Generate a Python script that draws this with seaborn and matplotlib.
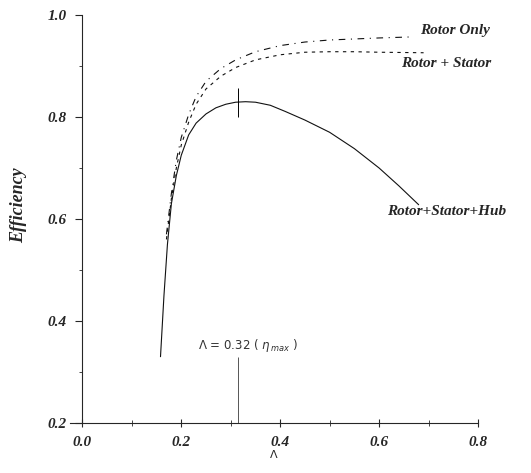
import matplotlib
matplotlib.use("Agg")
import matplotlib.pyplot as plt
import seaborn as sns
import pandas as pd

lam_hub = [0.158, 0.165, 0.172, 0.18, 0.19, 0.20, 0.215, 0.23, 0.25, 0.27, 0.29,
           0.31, 0.33, 0.35, 0.38, 0.41, 0.45, 0.50, 0.55, 0.60, 0.64, 0.68]
eff_hub = [0.33, 0.45, 0.55, 0.63, 0.685, 0.725, 0.765, 0.788, 0.806, 0.818, 0.825,
           0.829, 0.83, 0.829, 0.823, 0.811, 0.794, 0.77, 0.738, 0.70, 0.665, 0.628]

lam_rs = [0.17, 0.18, 0.19, 0.20, 0.215, 0.23, 0.25, 0.28, 0.31, 0.35, 0.40,
          0.45, 0.50, 0.55, 0.60, 0.69]
eff_rs = [0.56, 0.64, 0.70, 0.745, 0.79, 0.825, 0.855, 0.88, 0.897, 0.912, 0.922,
          0.927, 0.928, 0.928, 0.927, 0.926]

lam_ro = [0.17, 0.18, 0.19, 0.20, 0.215, 0.23, 0.25, 0.28, 0.31, 0.35, 0.40,
          0.45, 0.50, 0.55, 0.60, 0.665]
eff_ro = [0.57, 0.65, 0.715, 0.76, 0.805, 0.84, 0.87, 0.895, 0.912, 0.928, 0.94,
          0.947, 0.951, 0.953, 0.955, 0.957]

lam_peak = 0.315
peak_label = r"Λ = 0.32 ( $\eta_{\,max}$ )"

series_names = ["Rotor Only", "Rotor + Stator", "Rotor+Stator+Hub"]

sns.set_style("ticks")
plt.rcParams.update({
    "font.family": ["Liberation Serif", "DejaVu Serif"],
    "axes.linewidth": 0.8,
    "xtick.major.width": 0.8,
    "ytick.major.width": 0.8,
    "mathtext.fontset": "dejavusans",
})

fig = plt.figure(figsize=(5.31, 4.73), dpi=100)
ax = fig.add_axes([70 / 531, 50 / 473, (478 - 70) / 531, (458 - 50) / 473])

line_kw = dict(color="#111111", linewidth=0.8, estimator=None, sort=False, ax=ax)
sns.lineplot(data=pd.DataFrame({"lam": lam_ro, "eff": eff_ro}), x="lam", y="eff",
             linestyle=(0, (6, 5, 1, 5)), **line_kw)
sns.lineplot(data=pd.DataFrame({"lam": lam_rs, "eff": eff_rs}), x="lam", y="eff",
             linestyle=(0, (3, 4)), **line_kw)
sns.lineplot(data=pd.DataFrame({"lam": lam_hub, "eff": eff_hub}), x="lam", y="eff",
             linestyle="-", **line_kw)

# max-efficiency marker and guide line
ax.vlines(lam_peak, 0.80, 0.857, color="black", linewidth=0.7)
ax.vlines(lam_peak, 0.2, 0.33, color="#555555", linewidth=0.7)
ax.text(0.234, 0.352, peak_label, family="DejaVu Sans", fontsize=8.5,
        color="#333333", va="center", ha="left")

lab_kw = dict(fontsize=11, fontweight="bold", fontstyle="italic", ha="right",
              va="center", clip_on=False)
ax.text(0.824, 0.969, series_names[0], **lab_kw)
ax.text(0.826, 0.904, series_names[1], **lab_kw)
ax.text(0.857, 0.614, series_names[2], **lab_kw)

ax.set_xlim(-0.025, 0.8)
ax.set_ylim(0.2, 1.0)
ax.spines["left"].set_position(("data", 0.0))
ax.spines["right"].set_visible(False)
ax.spines["top"].set_visible(False)

ax.set_xticks([0.0, 0.2, 0.4, 0.6, 0.8])
ax.set_xticks([0.1, 0.3, 0.5, 0.7], minor=True)
ax.set_yticks([0.2, 0.4, 0.6, 0.8, 1.0])
ax.set_yticks([0.3, 0.5, 0.7, 0.9], minor=True)
ax.set_xticklabels([f"{v:.1f}" for v in [0.0, 0.2, 0.4, 0.6, 0.8]])
ax.set_yticklabels([f"{v:.1f}" for v in [0.2, 0.4, 0.6, 0.8, 1.0]])
ax.tick_params(axis="x", which="both", direction="inout", length=6, pad=6)
ax.tick_params(axis="x", which="minor", length=5)
ax.tick_params(axis="y", which="major", direction="out", length=5, pad=6)
ax.tick_params(axis="y", which="minor", direction="out", length=2.5)
for lbl in ax.get_xticklabels() + ax.get_yticklabels():
    lbl.set_fontweight("bold")
    lbl.set_fontstyle("italic")
    lbl.set_fontsize(11)

ax.set_xlabel("Λ", family="DejaVu Sans", fontsize=8, labelpad=1)
ax.set_ylabel("Efficiency", fontsize=13, fontweight="bold", fontstyle="italic")
ax.yaxis.set_label_coords(-0.105, 0.535)

fig.savefig("out.png", dpi=100)
